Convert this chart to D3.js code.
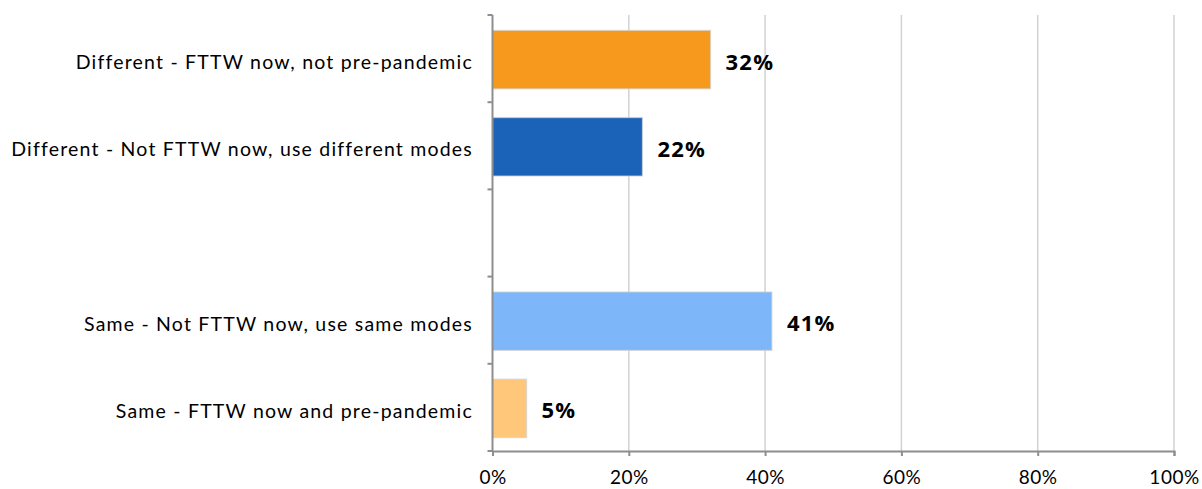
<!DOCTYPE html>
<html>
<head>
<meta charset="utf-8">
<script src="https://cdn.jsdelivr.net/npm/d3@7"></script>
<style>
  html, body { margin: 0; padding: 0; background: #fff; }
  svg { display: block; }
</style>
</head>
<body>
<svg id="chart" width="1202" height="489"></svg>
<script>
const categories = [
  "Different - FTTW now, not pre-pandemic",
  "Different - Not FTTW now, use different modes",
  "",
  "Same - Not FTTW now, use same modes",
  "Same - FTTW now and pre-pandemic"
];
const values = [0.32, 0.22, null, 0.41, 0.05];
const barColors = ["#F7991C", "#1B63B8", null, "#7DB7FA", "#FFC77A"];
const xTicks = [0, 0.2, 0.4, 0.6, 0.8, 1.0];

(function () {
const svg = d3.select("#chart");
const mLeft = 492.5, mRight = 1174, mTop = 15, mBottom = 451;

const x = d3.scaleLinear().domain([0, 1]).range([mLeft, mRight]);
const y = d3.scaleBand().domain(categories.map((c, i) => i)).range([mTop, mBottom]).padding(0);

// gridlines
svg.append("g").selectAll("line").data(xTicks.slice(1)).join("line")
  .attr("x1", d => x(d)).attr("x2", d => x(d))
  .attr("y1", mTop).attr("y2", mBottom)
  .attr("stroke", "#d2d2d2").attr("stroke-width", 1.5);

// bars
const data = categories.map((c, i) => ({c, i, v: values[i], col: barColors[i]})).filter(d => d.v != null);
const bh = y.bandwidth() * 0.67;
svg.append("g").selectAll("rect").data(data).join("rect")
  .attr("x", x(0))
  .attr("y", d => y(d.i) + y.bandwidth() / 2 - bh / 2 + 1)
  .attr("width", d => x(d.v) - x(0))
  .attr("height", bh)
  .attr("fill", d => d.col)
  .attr("stroke", "rgba(210,210,210,0.7)")
  .attr("stroke-width", 1.2);

// value labels
svg.append("g").selectAll("text").data(data).join("text")
  .attr("x", d => x(d.v) + 15)
  .attr("y", d => y(d.i) + y.bandwidth() / 2 + 2)
  .attr("dominant-baseline", "central")
  .attr("font-family", "'Open Sans', sans-serif")
  .attr("font-weight", "bold")
  .attr("font-size", 22)
  .attr("letter-spacing", 1.2)
  .attr("fill", "#000")
  .text(d => d3.format(".0%")(d.v));

// category labels
svg.append("g").selectAll("text").data(categories.map((c, i) => ({c, i}))).join("text")
  .attr("x", 473)
  .attr("y", d => y(d.i) + y.bandwidth() / 2 + 3)
  .attr("text-anchor", "end")
  .attr("dominant-baseline", "central")
  .attr("font-family", "Lato, sans-serif")
  .attr("font-size", 19.5)
  .attr("letter-spacing", 1.2)
  .attr("fill", "#000")
  .text(d => d.c);

// y axis line + ticks at band boundaries
const bounds = categories.map((c, i) => y(i)).concat([y.range()[1]]);
svg.append("line").attr("x1", mLeft).attr("x2", mLeft).attr("y1", mTop).attr("y2", mBottom)
  .attr("stroke", "#8e8e8e").attr("stroke-width", 2);
svg.append("g").selectAll("line").data(bounds).join("line")
  .attr("x1", mLeft - 5).attr("x2", mLeft).attr("y1", d => d).attr("y2", d => d)
  .attr("stroke", "#8e8e8e").attr("stroke-width", 2);

// x axis
const xAxis = svg.append("g").attr("transform", `translate(0,${mBottom})`)
  .call(d3.axisBottom(x).tickValues(xTicks).tickFormat(d3.format(".0%")).tickSize(5).tickPadding(15));
xAxis.select(".domain").attr("stroke", "#8e8e8e").attr("stroke-width", 2);
xAxis.selectAll(".tick line").attr("stroke", "#8e8e8e").attr("stroke-width", 2);
xAxis.selectAll(".tick text")
  .attr("font-family", "Lato, sans-serif")
  .attr("font-size", 19)
  .attr("letter-spacing", 0.5)
  .attr("fill", "#000");
})();
</script>
</body>
</html>
